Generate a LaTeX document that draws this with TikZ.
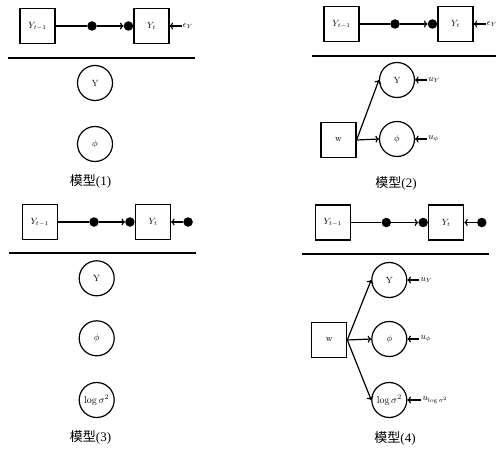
\documentclass[tikz,border=0pt]{standalone}
\usepackage{fontspec}
\usetikzlibrary{arrows.meta}
\newfontfamily\cjk{Noto Sans CJK SC}
\newfontfamily\capserif{Liberation Serif}
\begin{document}
\begin{tikzpicture}[x=1pt,y=-1pt,
  box/.style={draw,line width=1.2pt,minimum size=35pt,inner sep=0pt,font=\fontsize{9}{11}\selectfont},
  var/.style={draw,circle,line width=1.2pt,minimum size=35pt,inner sep=0pt,font=\fontsize{9}{11}\selectfont},
  bigvar/.style={var,font=\fontsize{10}{12}\selectfont},
  dot/.style={circle,fill,inner sep=0pt,minimum size=9.5pt},
  lab/.style={anchor=west,inner sep=1pt,font=\fontsize{9}{11}\selectfont},
  conn/.style={line width=1.2pt},
  arr/.style={line width=1.2pt,-{To[length=3.5pt,width=7pt]}},
  sep/.style={line width=1.4pt},
  captext/.style={font=\fontsize{13}{15}\selectfont}
]
\useasboundingbox (0,0) rectangle (504,452);

% ---------- Panel 1 ----------
\node[box] (p1a) at (37.5,26) {$Y_{t-1}$};
\node[box] (p1b) at (151.5,26) {$Y_t$};
\node[dot] (p1d1) at (92,26) {};
\node[dot,anchor=east] (p1d2) at (p1b.west) {};
\draw[conn] (p1a) -- (p1d1);
\draw[arr] (p1d1) -- (p1d2);
\coordinate (p1e) at ([xshift=12pt]p1b.east);
\node[lab] (p1el) at (p1e) {$\epsilon_Y$};
\draw[arr] (p1e) -- (p1b.east);
\draw[sep] (8,58) -- (195,58);
\node[var] (p1y) at (95,83) {Y};
\node[var] (p1p) at (95,144) {$\phi$};
\node[captext] (p1c) at (90.5,181.5) {\cjk 模型\capserif(1)};

% ---------- Panel 2 ----------
\node[box] (p2a) at (341.5,24) {$Y_{t-1}$};
\node[box] (p2b) at (455.5,24) {$Y_t$};
\node[dot] (p2d1) at (395,24) {};
\node[dot,anchor=east] (p2d2) at (p2b.west) {};
\draw[conn] (p2a) -- (p2d1);
\draw[arr] (p2d1) -- (p2d2);
\coordinate (p2e) at ([xshift=12pt]p2b.east);
\node[lab] (p2el) at (p2e) {$\epsilon_Y$};
\draw[arr] (p2e) -- (p2b.east);
\draw[sep] (312,56) -- (496,56);
\node[var] (p2y) at (397,80) {Y};
\node[var] (p2p) at (397,139) {$\phi$};
\node[box] (p2w) at (338.5,140) {w};
\draw[arr] (p2w.east) -- (p2y.west);
\draw[arr] (p2w.east) -- (p2p.west);
\coordinate (p2uy) at ([xshift=12pt]p2y.east);
\node[lab] (p2uyl) at (p2uy) {$u_Y$};
\draw[arr] (p2uy) -- (p2y.east);
\coordinate (p2up) at ([xshift=12pt]p2p.east);
\node[lab] (p2upl) at (p2up) {$u_\phi$};
\draw[arr] (p2up) -- (p2p.east);
\node[captext] (p2c) at (396,183) {\cjk 模型\capserif(2)};

% ---------- Panel 3 ----------
\node[box] (p3a) at (39.7,222) {$Y_{t-1}$};
\node[box] (p3b) at (153,222) {$Y_t$};
\node[dot] (p3d1) at (94,222) {};
\node[dot,anchor=east] (p3d2) at (p3b.west) {};
\draw[conn] (p3a) -- (p3d1);
\draw[arr] (p3d1) -- (p3d2);
\node[dot] (p3d3) at ([xshift=17pt]p3b.east) {};
\draw[arr] (p3d3) -- (p3b.east);
\draw[sep] (9,253) -- (196,253);
\node[var] (p3y) at (96.7,278.3) {Y};
\node[var] (p3p) at (96.7,338.3) {$\phi$};
\node[bigvar] (p3s) at (96.7,400) {$\log\sigma^2$};
\node[captext] (p3c) at (90.5,437.5) {\cjk 模型\capserif(3)};

% ---------- Panel 4 ----------
\node[box] (p4a) at (332.8,222.5) {$Y_{t-1}$};
\node[box] (p4b) at (446.2,222.5) {$Y_t$};
\node[dot] (p4d1) at (386.3,222.5) {};
\node[dot,anchor=east] (p4d2) at (p4b.west) {};
\draw[conn] (p4a) -- (p4d1);
\draw[arr] (p4d1) -- (p4d2);
\node[dot] (p4d3) at ([xshift=17.5pt]p4b.east) {};
\draw[arr] (p4d3) -- (p4b.east);
\draw[sep] (302,254) -- (489,254);
\node[var] (p4y) at (389.3,280) {Y};
\node[var] (p4p) at (389.3,339) {$\phi$};
\node[bigvar] (p4s) at (389.3,400) {$\log\sigma^2$};
\node[box] (p4w) at (329.2,340) {w};
\draw[arr] (p4w.east) -- (p4y.west);
\draw[arr] (p4w.east) -- (p4p.west);
\draw[arr] (p4w.east) -- (p4s.west);
\coordinate (p4uy) at ([xshift=12pt]p4y.east);
\node[lab] (p4uyl) at (p4uy) {$u_Y$};
\draw[arr] (p4uy) -- (p4y.east);
\coordinate (p4up) at ([xshift=12pt]p4p.east);
\node[lab] (p4upl) at (p4up) {$u_\phi$};
\draw[arr] (p4up) -- (p4p.east);
\coordinate (p4us) at ([xshift=14pt]p4s.east);
\node[lab] (p4usl) at (p4us) {$u_{\log\sigma^2}$};
\draw[arr] (p4us) -- (p4s.east);
\node[captext] (p4c) at (395,438) {\cjk 模型\capserif(4)};
\end{tikzpicture}
\end{document}
